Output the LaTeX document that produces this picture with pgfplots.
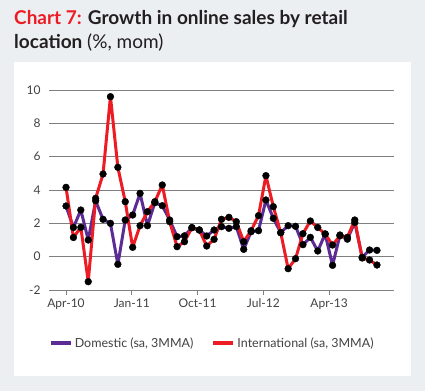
\documentclass[border=0pt]{standalone}
\usepackage{fontspec}
\setmainfont{Lato}
\usepackage{pgfplots}
\pgfplotsset{compat=1.18}
\definecolor{bgc}{HTML}{ECEFF2}
\definecolor{cred}{HTML}{ED1C24}
\definecolor{cpur}{HTML}{5B2C94}
\definecolor{ctxt}{HTML}{231F20}
\definecolor{cgrid}{HTML}{7F7F7F}
\begin{document}
\begin{tikzpicture}[x=1pt,y=1pt]
\fill[bgc] (0,0) rectangle (425,391);
\fill[white] (14,15) rectangle (411,329);
\node[anchor=base west,inner sep=0pt,font=\fontsize{19}{21}\selectfont\bfseries] at (14,366) {\textcolor{cred}{Chart 7:} \textcolor{ctxt}{Growth in online sales by retail}};
\node[anchor=base west,inner sep=0pt,font=\fontsize{19}{21}\selectfont,text=ctxt] at (14,342) {\textbf{location} (\%, mom)};
\begin{axis}[
  at={(49pt,101pt)}, anchor=south west,
  scale only axis, width=345pt, height=200pt,
  xmin=-2.3, xmax=44.3, ymin=-2, ymax=10,
  axis line style={draw=none},
  ytick={-2,0,...,10},
  ymajorgrids, grid style={cgrid, line width=0.9pt},
  xtick={0,8.88,17.77,26.65,35.54},
  xticklabels={Apr-10,Jan-11,Oct-11,Jul-12,Apr-13},
  tick pos=left, tick align=outside,
  major tick length=5pt,
  xtick style={draw=cgrid, line width=0.8pt},
  ytick style={draw=none},
  tick label style={font=\fontsize{12}{13}\selectfont, text=ctxt!85},
  /pgf/number format/assume math mode=true,
  legend style={at={(axis description cs:-0.01,-0.265)}, anchor=west, legend columns=2, draw=none, fill=none, font=\fontsize{12.5}{13}\selectfont, text=ctxt!85, /tikz/every even column/.append style={column sep=16pt}},
  legend image code/.code={\draw[#1, line width=4pt] (0pt,0pt) -- (20pt,0pt);},
]
\addplot[cpur, line width=3pt, line join=round, no markers] coordinates {
(0,3.04)(1,1.75)(2,2.8)(3,1.0)(4,3.35)(5,2.24)(6,2.0)(7,-0.46)(8,2.2)(9,2.5)
(10,3.8)(11,1.86)(12,3.24)(13,3.06)(14,2.2)(15,1.2)(16,1.25)(17,1.74)(18,1.6)(19,1.24)
(20,1.6)(21,1.8)(22,1.7)(23,1.8)(24,0.44)(25,1.5)(26,1.56)(27,3.4)(28,2.3)(29,1.44)
(30,1.86)(31,1.82)(32,0.72)(33,1.16)(34,0.34)(35,1.36)(36,-0.52)(37,1.3)(38,1.05)(39,2.05)
(40,-0.04)(41,0.4)(42,0.38)};
\addlegendentry{Domestic (sa, 3MMA)}
\addplot[cred, line width=3pt, line join=round, no markers] coordinates {
(0,4.16)(1,1.15)(2,1.76)(3,-1.5)(4,3.5)(5,4.96)(6,9.6)(7,5.36)(8,3.3)(9,0.56)
(10,1.86)(11,2.7)(12,3.3)(13,4.3)(14,2.1)(15,0.6)(16,0.9)(17,1.74)(18,1.6)(19,0.64)
(20,1.04)(21,2.24)(22,2.36)(23,2.1)(24,0.9)(25,1.56)(26,2.46)(27,4.86)(28,3.0)(29,1.44)
(30,-0.72)(31,-0.12)(32,1.38)(33,2.14)(34,1.75)(35,1.36)(36,0.7)(37,1.25)(38,1.16)(39,2.2)
(40,-0.08)(41,-0.2)(42,-0.5)};
\addlegendentry{International (sa, 3MMA)}
\addplot[only marks, mark=*, mark size=3.4pt, black, forget plot] coordinates {
(0,3.04)(1,1.75)(2,2.8)(3,1.0)(4,3.35)(5,2.24)(6,2.0)(7,-0.46)(8,2.2)(9,2.5)
(10,3.8)(11,1.86)(12,3.24)(13,3.06)(14,2.2)(15,1.2)(16,1.25)(17,1.74)(18,1.6)(19,1.24)
(20,1.6)(21,1.8)(22,1.7)(23,1.8)(24,0.44)(25,1.5)(26,1.56)(27,3.4)(28,2.3)(29,1.44)
(30,1.86)(31,1.82)(32,0.72)(33,1.16)(34,0.34)(35,1.36)(36,-0.52)(37,1.3)(38,1.05)(39,2.05)
(40,-0.04)(41,0.4)(42,0.38)};
\addplot[only marks, mark=*, mark size=3.4pt, black, forget plot] coordinates {
(0,4.16)(1,1.15)(2,1.76)(3,-1.5)(4,3.5)(5,4.96)(6,9.6)(7,5.36)(8,3.3)(9,0.56)
(10,1.86)(11,2.7)(12,3.3)(13,4.3)(14,2.1)(15,0.6)(16,0.9)(17,1.74)(18,1.6)(19,0.64)
(20,1.04)(21,2.24)(22,2.36)(23,2.1)(24,0.9)(25,1.56)(26,2.46)(27,4.86)(28,3.0)(29,1.44)
(30,-0.72)(31,-0.12)(32,1.38)(33,2.14)(34,1.75)(35,1.36)(36,0.7)(37,1.25)(38,1.16)(39,2.2)
(40,-0.08)(41,-0.2)(42,-0.5)};
\end{axis}
\end{tikzpicture}
\end{document}
